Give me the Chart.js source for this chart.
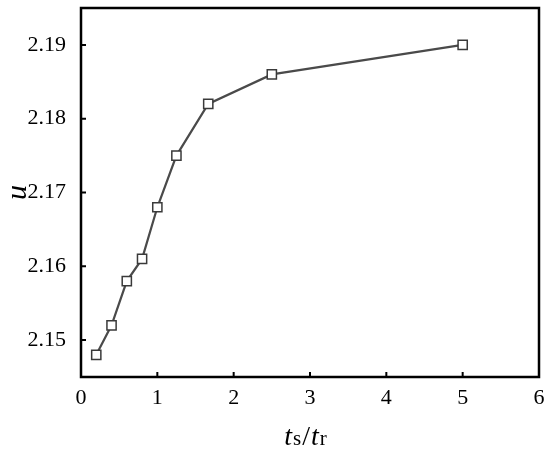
<!DOCTYPE html>
<html>
<head>
<meta charset="utf-8">
<script src="https://cdn.jsdelivr.net/npm/chart.js@4/dist/chart.umd.min.js"></script>
<style>
  html, body { margin: 0; padding: 0; background: #fff; }
  #wrap { width: 550px; height: 452px; }
</style>
</head>
<body>
<div id="wrap"><canvas id="chart" width="550" height="452"></canvas></div>
<script>
// values
const ratios = [0.2, 0.4, 0.6, 0.8, 1.0, 1.25, 1.667, 2.5, 5.0];
const uValues = [2.148, 2.152, 2.158, 2.161, 2.168, 2.175, 2.182, 2.186, 2.190];
const xTicks = [0, 1, 2, 3, 4, 5, 6];
const yTicks = [2.15, 2.16, 2.17, 2.18, 2.19];

const SERIF = "'Liberation Serif', 'DejaVu Serif', serif";

// box frame, inward ticks and the mixed-style x title
const frameAndTicks = {
  id: "frameAndTicks",
  afterDraw(chart) {
    const { ctx, chartArea: a, scales } = chart;
    ctx.save();
    ctx.strokeStyle = "#000";
    ctx.lineWidth = 2.5;
    ctx.strokeRect(a.left, a.top, a.right - a.left, a.bottom - a.top);

    ctx.lineWidth = 2;
    ctx.beginPath();
    scales.x.ticks.forEach((t) => {
      const px = scales.x.getPixelForValue(t.value);
      ctx.moveTo(px, a.bottom);
      ctx.lineTo(px, a.bottom - 5);
    });
    scales.y.ticks.forEach((t) => {
      const py = scales.y.getPixelForValue(t.value);
      ctx.moveTo(a.left, py);
      ctx.lineTo(a.left + 5, py);
    });
    ctx.stroke();

    // x title: t_s / t_r
    const parts = [
      { s: "t", f: "italic 28px " + SERIF },
      { s: "s", f: "21px " + SERIF },
      { s: "/", f: "28px " + SERIF },
      { s: "t", f: "italic 28px " + SERIF },
      { s: "r", f: "21px " + SERIF },
    ];
    let total = 0;
    parts.forEach((p) => { ctx.font = p.f; p.w = ctx.measureText(p.s).width; total += p.w + 1; });
    let x = (a.left + a.right) / 2 - total / 2 - 4;
    const baseline = 445;
    ctx.fillStyle = "#000";
    ctx.textBaseline = "alphabetic";
    parts.forEach((p) => { ctx.font = p.f; ctx.fillText(p.s, x, baseline); x += p.w + 1; });
    ctx.restore();
  },
};

new Chart(document.getElementById("chart"), {
  type: "scatter",
  data: {
    datasets: [{
      data: ratios.map((r, i) => ({ x: r, y: uValues[i] })),
      showLine: true,
      borderColor: "#4a4a4a",
      borderWidth: 2.2,
      pointStyle: "rect",
      pointRadius: 6.5,
      pointBorderWidth: 1.5,
      pointBorderColor: "#3a3a3a",
      pointBackgroundColor: "#fff",
    }],
  },
  options: {
    responsive: false,
    animation: false,
    layout: { padding: { left: 0, top: 7, right: 11, bottom: 0 } },
    plugins: { legend: { display: false }, tooltip: { enabled: false } },
    scales: {
      x: {
        type: "linear",
        min: 0,
        max: 6,
        afterBuildTicks: (s) => { s.ticks = xTicks.map((v) => ({ value: v })); },
        afterFit: (s) => { s.height = 75; s.paddingLeft = 0; s.paddingRight = 0; },
        grid: { display: false },
        border: { display: false },
        ticks: { color: "#000", padding: 0, font: { family: SERIF, size: 22 } },
      },
      y: {
        min: 2.145,
        max: 2.195,
        afterBuildTicks: (s) => { s.ticks = yTicks.map((v) => ({ value: v })); },
        afterFit: (s) => { s.width = 81; s.paddingTop = 0; s.paddingBottom = 0; },
        grid: { display: false },
        border: { display: false },
        ticks: { color: "#000", padding: 7, font: { family: SERIF, size: 22 }, callback: (v) => v.toFixed(2) },
        title: { display: true, text: "u", color: "#000", padding: { top: 0, bottom: 0 }, font: { family: SERIF, size: 30, style: "italic" } },
      },
    },
  },
  plugins: [frameAndTicks],
});
</script>
</body>
</html>
